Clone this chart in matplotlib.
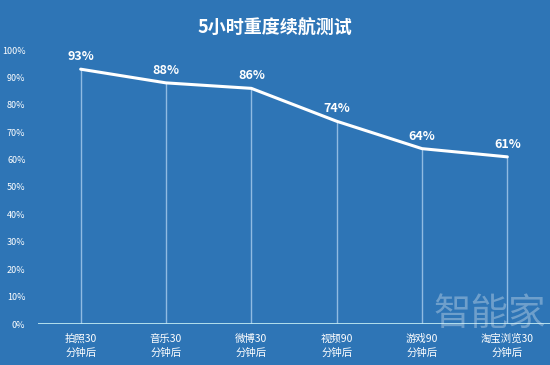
import matplotlib.pyplot as plt

plt.rcParams['font.family'] = ['Noto Sans CJK SC', 'DejaVu Sans']

categories = ['拍照30\n分钟后', '音乐30\n分钟后', '微博30\n分钟后',
              '视频90\n分钟后', '游戏90\n分钟后', '淘宝浏览30\n分钟后']
values = [93, 88, 86, 74, 64, 61]
yticks = list(range(0, 101, 10))

bg = '#2e75b6'
fig = plt.figure(figsize=(5.5, 3.65), dpi=100, facecolor=bg)
ax = fig.add_axes([38 / 550, 41 / 365, 512 / 550, 274 / 365], facecolor=bg)

xs = [i + 0.5 for i in range(len(values))]
ax.vlines(xs, 0, values, color='#a9cdee', lw=1.0, alpha=0.8)
ax.plot(xs, values, color='white', lw=2.2, solid_capstyle='round')
ax.axhline(0, color='#bfe9f2', lw=2)
for x, v in zip(xs, values):
    ax.text(x, v + 2.2, f'{v}%', color='white', fontsize=9, fontweight='bold',
            ha='center', va='bottom')

ax.set_xlim(0, 6)
ax.set_ylim(0, 100)
ax.set_yticks(yticks)
ax.set_yticklabels([f'{t}%' for t in yticks], color='white', fontsize=6.5)
ax.set_xticks(xs)
ax.set_xticklabels(categories, color='white', fontsize=7.5, linespacing=1.45)
ax.tick_params(length=0, pad=7)
ax.tick_params(axis='y', pad=9)
for s in ax.spines.values():
    s.set_visible(False)

fig.text(0.5, 1 - 28 / 365, '5小时重度续航测试', color='white', fontsize=13,
         fontweight='bold', ha='center', va='center')

# watermark
fig.text(490 / 550, 1 - 314 / 365, '智能家', color='#e8eef5', alpha=0.35, fontsize=27,
         ha='center', va='center')

fig.savefig('out.png', dpi=100, facecolor=bg)
